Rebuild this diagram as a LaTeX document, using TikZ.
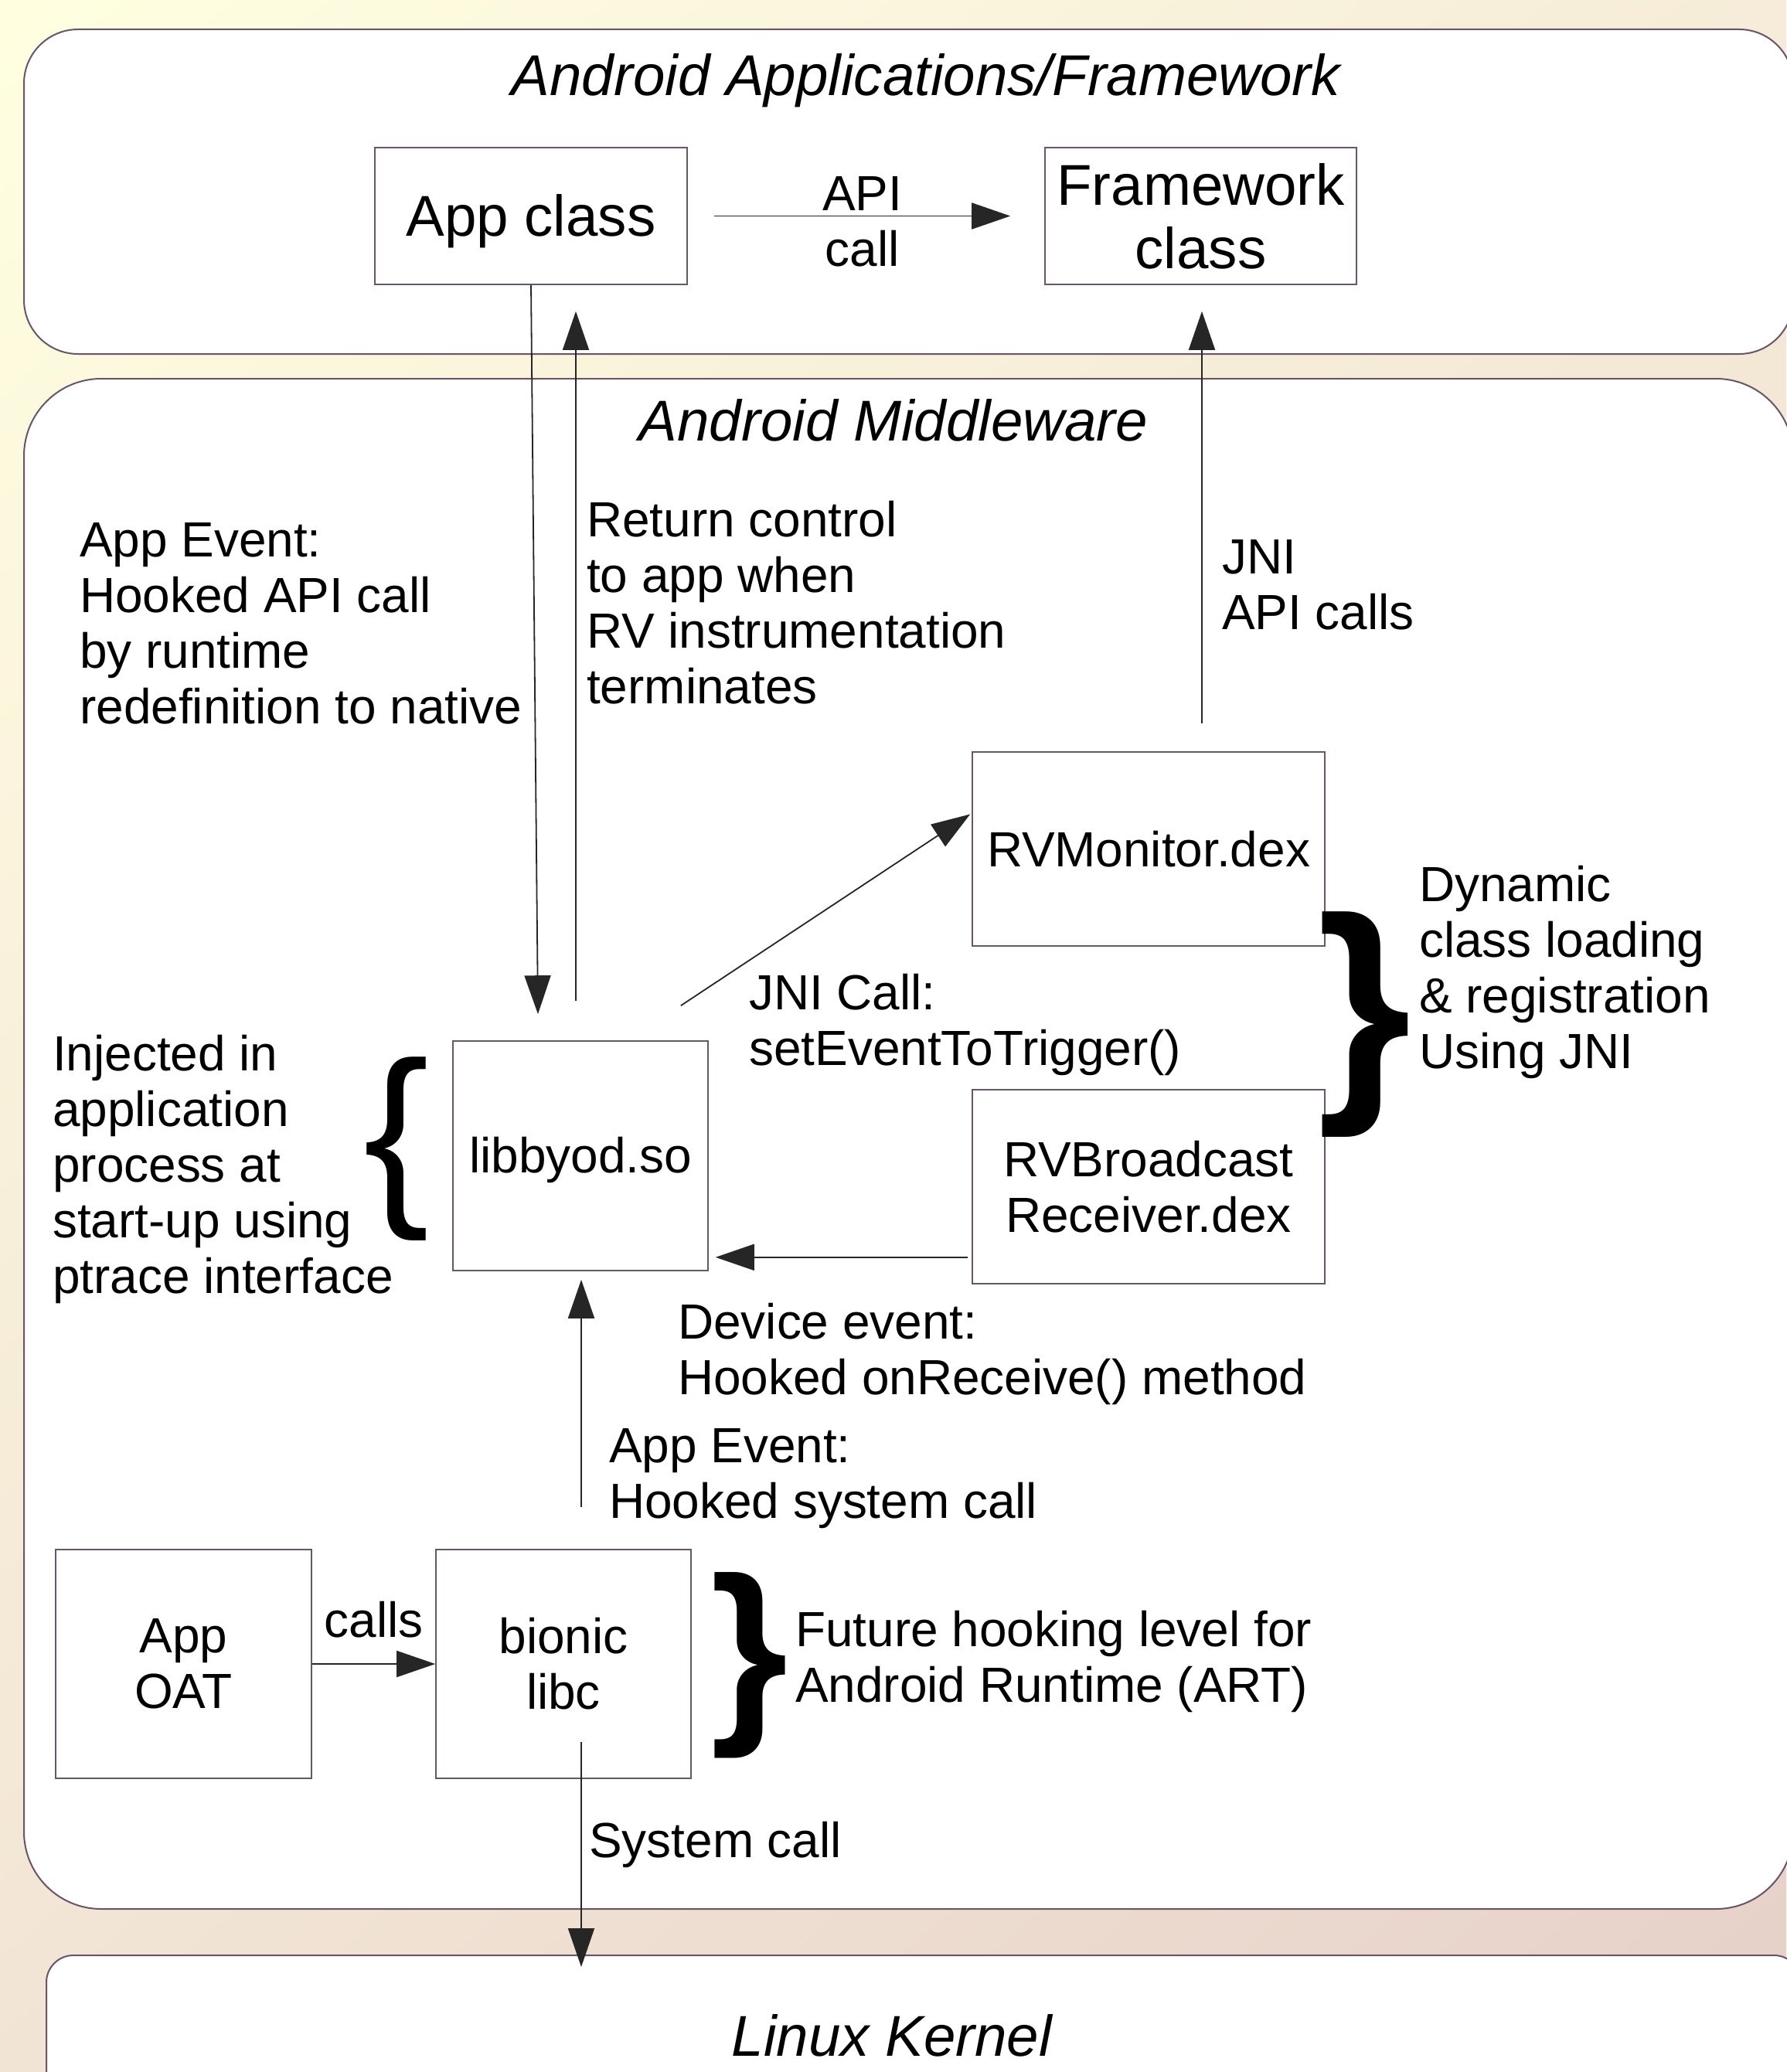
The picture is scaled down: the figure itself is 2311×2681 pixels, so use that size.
\documentclass[tikz,border=0pt]{standalone}
\usepackage{fontspec}
\setmainfont{Liberation Sans}
\usetikzlibrary{arrows.meta,calc,shadings}
\definecolor{bgA}{HTML}{FFFFE0}
\definecolor{bgB}{HTML}{F6ECD9}
\definecolor{bgC}{HTML}{F2E4D5}
\definecolor{bgD}{HTML}{E6D0C9}
\definecolor{edgec}{HTML}{6A5468}
\newcommand\fntS{\fontsize{63.9}{72}\selectfont}
\newcommand\fntL{\fontsize{74.5}{82}\selectfont}
\begin{document}
\begin{tikzpicture}[x=1pt,y=-1pt,
  layer/.style={draw=edgec, line width=2pt, fill=white},
  box/.style={draw=edgec, line width=1.6pt, fill=white, inner sep=0pt, align=center, font=\fntS},
  bigbox/.style={box, font=\fntL},
  lbl/.style={inner sep=0pt, align=left, anchor=base west, font=\fntS},
  ttl/.style={inner sep=0pt, anchor=base, font=\fntL\itshape},
  conn/.style={line width=1.8pt, draw=black!85, -{Triangle[length=50pt,width=34pt]}},
  brc/.style={inner sep=0pt, anchor=center}]
\useasboundingbox (0,0) rectangle (2311,2681);
\shade[upper left=bgA, upper right=bgB, lower left=bgC, lower right=bgD] (0,0) rectangle (2311,2681);

% layers
\draw[layer, rounded corners=70pt] (31,38) rectangle (2320,458);
\draw[layer, rounded corners=100pt] (31,490) rectangle (2320,2470);
\draw[layer, rounded corners=35pt] (60,2530) rectangle (2330,2760);

\node[ttl] (t1) at (1198,124) {Android Applications/Framework};
\node[ttl] (t2) at (1156,570) {Android Middleware};
\node[ttl] (t3) at (1154,2660) {Linux Kernel};

% boxes
\node[bigbox, minimum width=404pt, minimum height=177pt, text height=54pt, text depth=2pt] (appc) at (687,279.5) {App class};
\node[bigbox, minimum width=403pt, minimum height=177pt] (fwc) at (1553.5,279.5) {Framework\\class};
\node[box, minimum width=456pt, minimum height=251pt] (rvm) at (1486,1098.5) {RVMonitor.dex};
\node[box, minimum width=456pt, minimum height=251pt] (rvb) at (1486,1535.5) {RVBroadcast\\Receiver.dex};
\node[box, minimum width=330pt, minimum height=297pt, text height=46pt, text depth=3pt] (libbyod) at (751,1495.5) {libbyod.so};
\node[box, minimum width=331pt, minimum height=296pt] (oat) at (237.5,2153) {App\\OAT};
\node[box, minimum width=330pt, minimum height=296pt] (bionic) at (729,2153) {bionic\\libc};
\coordinate (kernTip) at (752,2545);

% braces
\node[brc, font=\fontsize{313}{313}\selectfont\bfseries] (br1) at (1765,1326) {\}};
\node[brc, font=\fontsize{255}{255}\selectfont] (br2) at (513,1487) {\{};
\node[brc, font=\fontsize{258}{258}\selectfont\bfseries] (br3) at (970,2155) {\}};

% connectors
\draw[conn] ($(appc.east)+(34,0)$) -- ($(fwc.west)+(-44,0)$)
  node[midway, inner sep=0pt, align=center, yshift=-7pt, font=\fntS] (apilbl) {API\\call};
\draw[conn] (appc.south) -- ($(libbyod.north)+(-55,-34)$);
\draw[conn] ($(libbyod.north)+(-6,-51)$) -- ($(appc.south)+(58,34)$);
\draw[conn] ($(rvm.north)+(69,-36)$) -- ($(fwc.south)+(1.5,34)$);
\draw[conn] ($(libbyod.north east)+(-36,-45)$) -- ($(rvm.west)+(-2,-45)$);
\draw[conn] ($(rvb.south west)+(-5,-35)$) -- ($(libbyod.south east)+(9,-18)$);
\draw[conn] ($(libbyod.south)+(1,305)$) -- ($(libbyod.south)+(1,11)$);
\draw[conn] (oat.east) -- (bionic.west)
  node[midway, inner sep=0pt, anchor=base, yshift=35pt, font=\fntS] (callslbl) {calls};
\draw[conn] ($(bionic.south)+(23,-48)$) -- (kernTip);

% labels (anchor = baseline of the last line)
\node[lbl] (l1) at (103,936) {App Event:\\Hooked API call\\by runtime\\redefinition to native};
\node[lbl] (l2) at (759,910) {Return control\\to app when\\RV instrumentation\\terminates};
\node[lbl] (l3) at (1581,814) {JNI\\API calls};
\node[lbl] (l4) at (969,1378) {JNI Call:\\setEventToTrigger()};
\node[lbl] (l5) at (1836,1382) {Dynamic\\class loading\\\& registration\\Using JNI};
\node[lbl] (l6) at (68,1673) {Injected in\\application\\process at\\start-up using\\ptrace interface};
\node[lbl] (l7) at (877,1804) {Device event:\\Hooked onReceive() method};
\node[lbl] (l8) at (788,1964) {App Event:\\Hooked system call};
\node[lbl] (l9) at (1029,2202) {Future hooking level for\\Android Runtime (ART)};
\node[lbl] (l10) at (762,2403) {System call};
\end{tikzpicture}
\end{document}
